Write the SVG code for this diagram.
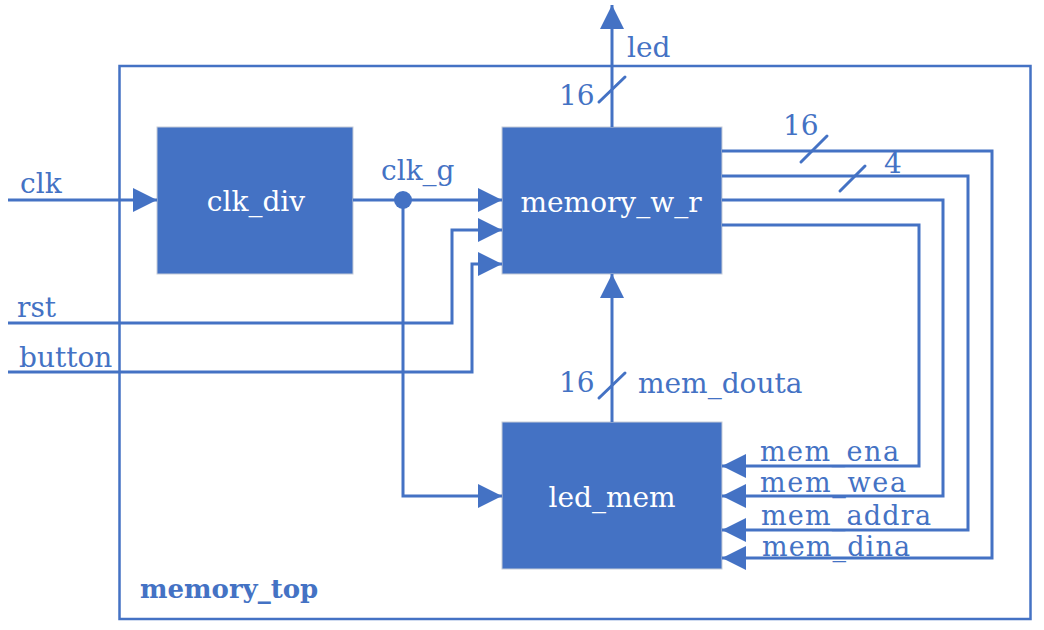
<svg xmlns="http://www.w3.org/2000/svg" width="1044" height="630" viewBox="0 0 1044 630">
<style>
.wire{fill:none;stroke:#4472C4;stroke-width:3}
.slash{stroke:#4472C4;stroke-width:3;stroke-linecap:round}
.blk{fill:#4472C4;stroke:#C5CCD8;stroke-width:1}
.lbl{font-family:"DejaVu Serif","Liberation Serif",serif;font-size:28px;fill:#4472C4}
.sm{font-size:27px}
.nt{font-family:"DejaVu Serif","Liberation Serif",serif;font-size:28px;fill:#FFFFFF;text-anchor:middle}
.title{font-family:"DejaVu Serif","Liberation Serif",serif;font-size:26px;font-weight:bold;fill:#4472C4}
</style>
<defs>
<marker id="arr" viewBox="0 0 24 24" refX="24" refY="12" markerWidth="24" markerHeight="24" markerUnits="userSpaceOnUse" orient="auto">
<path d="M0,0 L24,12 L0,24 z" fill="#4472C4"/>
</marker>
</defs>
<rect width="1044" height="630" fill="#FFFFFF"/>
<g id="memory_top">
<rect x="119.5" y="66" width="911" height="553" fill="none" stroke="#4472C4" stroke-width="2.5"/>
<text class="title" x="140" y="598">memory_top</text>
</g>
<g id="clk_div">
<rect class="blk" x="157" y="127" width="196" height="147"/>
<text class="nt" x="256" y="211">clk_div</text>
</g>
<g id="memory_w_r">
<rect class="blk" x="502" y="127" width="220" height="147"/>
<text class="nt" x="611" y="212">memory_w_r</text>
</g>
<g id="led_mem">
<rect class="blk" x="502" y="422" width="220" height="147"/>
<text class="nt" x="612" y="507">led_mem</text>
</g>
<g id="connectors">
<path class="wire" d="M8,200 H157" marker-end="url(#arr)"/>
<path class="wire" d="M353,200 H502" marker-end="url(#arr)"/>
<path class="wire" d="M403,200 V496 H502" marker-end="url(#arr)"/>
<circle cx="403" cy="200" r="9" fill="#4472C4"/>
<path class="wire" d="M8,323 H452 V230 H502" marker-end="url(#arr)"/>
<path class="wire" d="M8,372 H472 V264 H502" marker-end="url(#arr)"/>
<path class="wire" d="M612,127 V5" marker-end="url(#arr)"/>
<path class="wire" d="M612,422 V274" marker-end="url(#arr)"/>
<path class="wire" d="M722,151 H992 V558 H722" marker-end="url(#arr)"/>
<path class="wire" d="M722,176 H968 V530 H722" marker-end="url(#arr)"/>
<path class="wire" d="M722,200 H943 V496 H722" marker-end="url(#arr)"/>
<path class="wire" d="M722,225 H919 V466 H722" marker-end="url(#arr)"/>
<line class="slash" x1="599" y1="102" x2="625" y2="77"/>
<line class="slash" x1="599" y1="398" x2="625" y2="373"/>
<line class="slash" x1="801" y1="162" x2="827" y2="136"/>
<line class="slash" x1="840" y1="191" x2="865" y2="166"/>
<text class="lbl" x="20" y="193">clk</text>
<text class="lbl" x="381" y="180">clk_g</text>
<text class="lbl" x="17" y="317">rst</text>
<text class="lbl" x="19" y="367">button</text>
<text class="lbl" x="627" y="57">led</text>
<text class="lbl" x="559" y="105">16</text>
<text class="lbl" x="783" y="135">16</text>
<text class="lbl" x="884" y="173">4</text>
<text class="lbl" x="559" y="392">16</text>
<text class="lbl" x="638" y="393">mem_douta</text>
<text class="lbl sm" x="760" y="461" textLength="139" lengthAdjust="spacing">mem_ena</text>
<text class="lbl sm" x="760" y="492" textLength="146" lengthAdjust="spacing">mem_wea</text>
<text class="lbl sm" x="761" y="525" textLength="170" lengthAdjust="spacing">mem_addra</text>
<text class="lbl sm" x="762" y="556" textLength="148" lengthAdjust="spacing">mem_dina</text>
</g>
</svg>
